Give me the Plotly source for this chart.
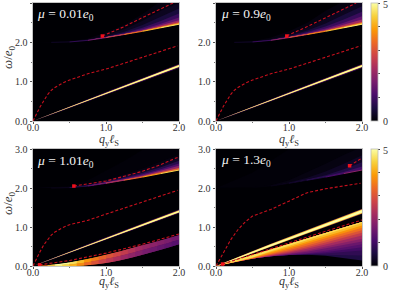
import plotly.graph_objects as go
from plotly.colors import sample_colorscale, sequential

W, H = 399, 290
ZMAX = 5
INFERNO = sequential.Inferno
def col(z):
    return sample_colorscale(INFERNO, [min(z / ZMAX, 1)])[0]

TITLES = ["0.01", "0.9", "1.01", "1.3"]
TICKS = [0.0, 1.0, 2.0, 3.0]
Q = [0.0, 0.25, 0.5, 0.75, 1.0, 1.25, 1.5, 1.75, 2.0]

# upper continuum edge
EDGE = [2.0, 2.0, 2.01, 2.05, 2.12, 2.2, 2.28, 2.37, 2.46]
EDGE_Z_1 = [0, 0.1, 0.3, 0.8, 1.6, 2.5, 3.4, 4.2, 4.6]
EDGE_Z_2 = [0, 0.1, 0.3, 0.9, 1.8, 2.8, 3.6, 4.3, 4.7]
EDGE_Z_3 = [0, 0.05, 0.2, 0.6, 1.3, 2.2, 3.2, 4.0, 4.5]
EDGE_Z_4 = [0, 0, 0.02, 0.05, 0.15, 0.3, 0.6, 1.1, 1.9]

# glow above the edge: intensity level, upper limit in omega
GLOW_1 = [(0.1, [2.0, 2.0, 2.02, 2.1, 2.25, 2.45, 2.72, 3.05, 3.05]),
          (0.25, [2.0, 2.0, 2.015, 2.07, 2.18, 2.33, 2.55, 2.8, 3.0]),
          (0.5, [2.0, 2.0, 2.01, 2.06, 2.15, 2.27, 2.44, 2.65, 2.86]),
          (0.9, [2.0, 2.0, 2.01, 2.055, 2.135, 2.24, 2.37, 2.54, 2.73]),
          (1.4, [2.0, 2.0, 2.01, 2.05, 2.13, 2.225, 2.33, 2.47, 2.63]),
          (2.2, [2.0, 2.0, 2.01, 2.05, 2.125, 2.215, 2.31, 2.43, 2.56]),
          (3.2, [2.0, 2.0, 2.01, 2.05, 2.123, 2.208, 2.295, 2.4, 2.51]),
          (4.2, [2.0, 2.0, 2.01, 2.05, 2.12, 2.203, 2.287, 2.385, 2.485])]
GLOW_2 = [(0.1, [2.0, 2.0, 2.03, 2.12, 2.28, 2.5, 2.8, 3.05, 3.05]),
          (0.25, [2.0, 2.0, 2.02, 2.08, 2.2, 2.37, 2.6, 2.87, 3.05]),
          (0.5, [2.0, 2.0, 2.01, 2.065, 2.16, 2.3, 2.48, 2.7, 2.92]),
          (0.9, [2.0, 2.0, 2.01, 2.06, 2.145, 2.26, 2.4, 2.58, 2.78]),
          (1.4, [2.0, 2.0, 2.01, 2.055, 2.135, 2.24, 2.35, 2.5, 2.66]),
          (2.2, [2.0, 2.0, 2.01, 2.05, 2.13, 2.22, 2.32, 2.45, 2.58]),
          (3.2, [2.0, 2.0, 2.01, 2.05, 2.125, 2.21, 2.3, 2.41, 2.52]),
          (4.2, [2.0, 2.0, 2.01, 2.05, 2.122, 2.205, 2.29, 2.39, 2.49])]
GLOW_3 = [(0.05, [2.0, 2.02, 2.06, 2.2, 2.45, 2.7, 2.98, 3.05, 3.05]),
          (0.12, [2.0, 2.0, 2.03, 2.11, 2.22, 2.35, 2.5, 2.68, 2.86]),
          (0.3, [2.0, 2.0, 2.02, 2.09, 2.19, 2.31, 2.44, 2.6, 2.78]),
          (0.7, [2.0, 2.0, 2.01, 2.07, 2.16, 2.27, 2.39, 2.53, 2.7]),
          (1.2, [2.0, 2.0, 2.01, 2.06, 2.145, 2.245, 2.35, 2.48, 2.63]),
          (2.0, [2.0, 2.0, 2.01, 2.055, 2.135, 2.225, 2.32, 2.44, 2.57]),
          (3.2, [2.0, 2.0, 2.01, 2.05, 2.125, 2.21, 2.3, 2.4, 2.51])]
GLOW_4 = [(0.05, [2.0, 2.2, 2.4, 2.7, 3.0, 3.05, 3.05, 3.05, 3.05]),
          (0.12, [2.0, 2.0, 2.02, 2.07, 2.2, 2.4, 2.62, 2.85, 3.05]),
          (0.3, [2.0, 2.0, 2.01, 2.05, 2.14, 2.26, 2.42, 2.62, 2.84]),
          (0.6, [2.0, 2.0, 2.01, 2.05, 2.125, 2.22, 2.33, 2.48, 2.66]),
          (1.0, [2.0, 2.0, 2.01, 2.05, 2.12, 2.21, 2.3, 2.41, 2.55])]

# sharp linear mode
LINEAR = [0.0, 0.175, 0.35, 0.525, 0.7, 0.875, 1.05, 1.225, 1.4]
HALO_THIN = [0.0, 0.016, 0.024, 0.03, 0.036, 0.04, 0.044, 0.047, 0.05]
CORE_THIN = [0.0, 0.004, 0.007, 0.009, 0.011, 0.012, 0.013, 0.014, 0.015]
HALO_WIDE = [0.0, 0.024, 0.036, 0.045, 0.05, 0.055, 0.058, 0.062, 0.066]
CORE_WIDE = [0.0, 0.01, 0.014, 0.018, 0.02, 0.022, 0.024, 0.025, 0.026]

# wedge of panel 3, column by column
WEDGE3_Q = [0.1, 0.2, 0.3, 0.4, 0.5, 0.6, 0.7, 0.8, 0.9, 1.0, 1.1, 1.2, 1.3, 1.4, 1.5, 1.6, 1.7, 1.8, 1.9, 2.0]
WEDGE3_HI = [0.01, 0.02, 0.04, 0.06, 0.09, 0.12, 0.16, 0.2, 0.24, 0.29, 0.33, 0.38, 0.43, 0.48, 0.53, 0.58, 0.63, 0.68, 0.74, 0.79]
WEDGE3_MID = [0, 0.01, 0.02, 0.03, 0.045, 0.06, 0.085, 0.115, 0.145, 0.185, 0.22, 0.265, 0.31, 0.36, 0.41, 0.46, 0.51, 0.56, 0.62, 0.675]
WEDGE3_LO = [0, 0, 0, 0, 0, 0, 0.01, 0.03, 0.05, 0.08, 0.11, 0.15, 0.19, 0.24, 0.29, 0.34, 0.39, 0.44, 0.5, 0.56]
WEDGE3_Z = [2, 3.6, 4.8, 5, 4.9, 4.6, 4.2, 3.8, 3.5, 3.2, 3.0, 2.8, 2.6, 2.4, 2.2, 2.05, 1.9, 1.8, 1.7, 1.6]
WEDGE3_Z_LOW = [1.8, 3.3, 4.5, 4.8, 4.5, 4.1, 3.7, 3.3, 3.0, 2.7, 2.5, 2.3, 2.1, 1.95, 1.8, 1.65, 1.55, 1.45, 1.35, 1.25]

# wedge of panel 4: common top, one lower limit per intensity level
WEDGE4_HI = [0.0, 0.14, 0.28, 0.42, 0.56, 0.7, 0.84, 0.98, 1.13]
WEDGE4_LEVELS = [(0.6, [0, 0.1, 0.19, 0.25, 0.285, 0.29, 0.26, 0.2, 0.14]),
                 (0.8, [0, 0.1, 0.19, 0.25, 0.285, 0.295, 0.29, 0.28, 0.27]),
                 (1.0, [0, 0.1, 0.19, 0.25, 0.285, 0.3, 0.32, 0.36, 0.4]),
                 (1.25, [0, 0.1, 0.19, 0.25, 0.287, 0.315, 0.355, 0.42, 0.48]),
                 (1.5, [0, 0.1, 0.19, 0.25, 0.29, 0.33, 0.39, 0.48, 0.56]),
                 (1.85, [0, 0.1, 0.19, 0.255, 0.305, 0.365, 0.445, 0.54, 0.63]),
                 (2.2, [0, 0.1, 0.19, 0.26, 0.32, 0.4, 0.5, 0.6, 0.7]),
                 (2.6, [0, 0.1, 0.19, 0.27, 0.345, 0.44, 0.55, 0.66, 0.78]),
                 (3.0, [0, 0.1, 0.19, 0.28, 0.37, 0.48, 0.6, 0.72, 0.85]),
                 (3.4, [0, 0.1, 0.195, 0.3, 0.405, 0.525, 0.65, 0.78, 0.915]),
                 (3.8, [0, 0.1, 0.2, 0.32, 0.44, 0.57, 0.7, 0.84, 0.98]),
                 (4.2, [0, 0.1, 0.21, 0.35, 0.48, 0.615, 0.75, 0.895, 1.04]),
                 (4.6, [0, 0.1, 0.22, 0.38, 0.52, 0.66, 0.8, 0.95, 1.1])]

# dashed dispersions
MID_Q = [0.0, 0.05, 0.1, 0.15, 0.2, 0.25, 0.3, 0.4, 0.5, 0.75, 1.0, 1.25, 1.5, 1.75, 1.98]
MID_1 = [0.0, 0.2, 0.37, 0.52, 0.67, 0.78, 0.85, 0.96, 1.04, 1.2, 1.32, 1.47, 1.62, 1.77, 1.91]
MID_2 = [0.0, 0.2, 0.37, 0.52, 0.67, 0.78, 0.85, 0.96, 1.04, 1.2, 1.32, 1.47, 1.62, 1.77, 1.91]
MID_3 = [0.0, 0.2, 0.38, 0.55, 0.68, 0.79, 0.87, 0.98, 1.06, 1.17, 1.33, 1.49, 1.64, 1.79, 1.94]
MID_4 = [0.0, 0.18, 0.34, 0.5, 0.67, 0.81, 0.93, 1.13, 1.28, 1.45, 1.67, 1.88, 1.98, 2.05, 2.12]

TOP_Q_1 = [0.95, 1.0, 1.25, 1.5, 1.75, 1.92]
TOP_W_1 = [2.16, 2.2, 2.4, 2.63, 2.85, 3.0]
TOP_Q_2 = [0.97, 1.0, 1.25, 1.5, 1.75, 1.92]
TOP_W_2 = [2.16, 2.19, 2.4, 2.63, 2.85, 3.0]
TOP_Q_3 = [0.56, 0.75, 1.0, 1.25, 1.5, 1.75, 2.0]
TOP_W_3 = [2.05, 2.1, 2.18, 2.3, 2.43, 2.6, 2.8]
TOP_Q_4 = [1.83, 1.9, 2.0]
TOP_W_4 = [2.57, 2.66, 2.77]

LOW_Q_3 = [0.09, 0.5, 1.0, 1.5, 2.0]
LOW_W_3 = [0.03, 0.14, 0.33, 0.56, 0.82]
LOW_Q_4 = [0.09, 0.5, 1.0, 1.5, 2.0]
LOW_W_4 = [0.05, 0.3, 0.6, 0.89, 1.18]

# axes pixel boxes (left, right, top, bottom)
BOXES = [(33, 179, 3, 121), (216, 362, 3, 121), (33, 179, 149, 266), (216, 362, 149, 266)]

fig = go.Figure()


def poly(i, xs, lo, hi, z):
    fig.add_trace(go.Scatter(
        x=list(xs) + list(xs)[::-1], y=list(hi) + list(lo)[::-1],
        fill="toself", fillcolor=col(z), mode="lines",
        line=dict(width=0, color=col(z)), xaxis=f"x{i+1}", yaxis=f"y{i+1}",
        hoverinfo="skip", showlegend=False))


def dashed(i, q, w):
    fig.add_trace(go.Scatter(x=q, y=w, mode="lines", line=dict(color="#c8101e", width=1.1, dash="3px,2px"),
                             xaxis=f"x{i+1}", yaxis=f"y{i+1}", showlegend=False, hoverinfo="skip"))


def mark(i, q, w):
    fig.add_trace(go.Scatter(x=[q], y=[w], mode="markers", marker=dict(symbol="square", size=3.5, color="#f0101c"),
                             xaxis=f"x{i+1}", yaxis=f"y{i+1}", showlegend=False, hoverinfo="skip"))


glows = [GLOW_1, GLOW_2, GLOW_3, GLOW_4]
edge_z = [EDGE_Z_1, EDGE_Z_2, EDGE_Z_3, EDGE_Z_4]
mids = [MID_1, MID_2, MID_3, MID_4]
tops = [(TOP_Q_1, TOP_W_1), (TOP_Q_2, TOP_W_2), (TOP_Q_3, TOP_W_3), (TOP_Q_4, TOP_W_4)]

for i in range(4):
    ax = f"x{i+1}"
    ay = f"y{i+1}"
    fig.add_trace(go.Heatmap(
        x=[0, 2], y=[0, 3], z=[[0, 0], [0, 0]], zmin=0, zmax=ZMAX, colorscale=INFERNO,
        xaxis=ax, yaxis=ay, hoverinfo="skip",
        showscale=i in (1, 3),
        colorbar=dict(
            x=371 / W, xanchor="left", xref="paper", thickness=7, thicknessmode="pixels",
            len=(BOXES[i][3] - BOXES[i][2]) / H, lenmode="fraction",
            y=1 - BOXES[i][3] / H, yanchor="bottom", yref="paper",
            tickvals=[1, 2, 3, 4, 5], ticktext=["", "", "", "", ""],
            ticks="outside", ticklen=2, tickwidth=0.6, tickcolor="#444",
            tickfont=dict(family="Liberation Serif", size=10, color="#333"),
            outlinecolor="#bbbbbb", outlinewidth=0.8, xpad=0, ypad=0),
    ))
    for z, hi in glows[i]:
        poly(i, Q, EDGE, hi, z)
    # edge line, coloured piece by piece
    for k in range(1, len(Q) - 1):
        fig.add_trace(go.Scatter(x=Q[k:k + 2], y=EDGE[k:k + 2], mode="lines",
                                 line=dict(color=col(edge_z[i][k + 1]), width=1.0), xaxis=ax, yaxis=ay,
                                 showlegend=False, hoverinfo="skip"))
    halo = HALO_WIDE if i == 3 else HALO_THIN
    core = CORE_WIDE if i == 3 else CORE_THIN
    poly(i, Q, [a - b for a, b in zip(LINEAR, halo)], [a + b for a, b in zip(LINEAR, halo)], 0.9)
    poly(i, Q, [a - b * 2 for a, b in zip(LINEAR, core)], [a + b * 2 for a, b in zip(LINEAR, core)], 4.2)
    poly(i, Q, [a - b * 1.3 for a, b in zip(LINEAR, core)], [a + b * 1.3 for a, b in zip(LINEAR, core)], 5.0)
    dashed(i, MID_Q, mids[i])
    dashed(i, tops[i][0], tops[i][1])
    mark(i, tops[i][0][0], tops[i][1][0])

# wedges and their dashed tops: each column overlaps the next to hide seams
for k in range(len(WEDGE3_Q) - 1):
    poly(2, WEDGE3_Q[k:k + 3], WEDGE3_MID[k:k + 3], WEDGE3_HI[k:k + 3], WEDGE3_Z[k + 1])
    poly(2, WEDGE3_Q[k:k + 3], WEDGE3_LO[k:k + 3], WEDGE3_MID[k:k + 3], WEDGE3_Z_LOW[k + 1])
for z, lo in WEDGE4_LEVELS:
    poly(3, Q, lo, WEDGE4_HI, z)
dashed(2, LOW_Q_3, LOW_W_3)
mark(2, LOW_Q_3[0], LOW_W_3[0])
dashed(3, LOW_Q_4, LOW_W_4)
mark(3, LOW_Q_4[0], LOW_W_4[0])

FONT = "Liberation Serif"
layout = dict(width=W, height=H, margin=dict(l=0, r=0, t=0, b=0, autoexpand=False), paper_bgcolor="white",
              plot_bgcolor=col(0), showlegend=False)
for i, (l, r, t, b) in enumerate(BOXES):
    common = dict(showgrid=False, zeroline=False, showline=True, mirror=True, linecolor="#c4c4c4", linewidth=0.8,
                  ticks="outside", ticklen=2.5, tickwidth=0.7, tickcolor="#555",
                  tickfont=dict(family=FONT, size=10, color="#333"), tickformat=".1f",
                  minor=dict(ticks="outside", ticklen=1.5, tickwidth=0.6, tickcolor="#777"))
    layout[f"xaxis{i+1}"] = dict(common, domain=[l / W, r / W], range=[0, 2], anchor=f"y{i+1}", ticklabelstandoff=-5,
                                 tickvals=TICKS[:3], minor=dict(common["minor"], tickvals=[0.5, 1.5]))
    layout[f"yaxis{i+1}"] = dict(common, domain=[1 - b / H, 1 - t / H], range=[0, 3], anchor=f"x{i+1}",
                                 tickvals=TICKS, minor=dict(common["minor"], tickvals=[0.5, 1.5, 2.5]))
fig.update_layout(**layout)


def note(x, y, text, size, color="#333", angle=0):
    fig.add_annotation(xref="paper", yref="paper", x=x / W, y=1 - y / H, text=text, showarrow=False,
                       font=dict(family=FONT, size=size, color=color), textangle=angle,
                       xanchor="center", yanchor="middle")


MU_POS = [(65, 15), (246, 15), (65, 161), (246, 160)]
for (x, y), t in zip(MU_POS, TITLES):
    note(x, y, f"<i>μ</i> = {t}<i>e</i><sub>0</sub>", 13.5, "#f2f2f2")
for x, y in [(109, 140), (289, 140), (109, 282), (289, 282)]:
    note(x, y, "<i>q</i><sub>y</sub><i>ℓ</i><sub>S</sub>", 12)
for y in (57, 203):
    note(8, y, "<i>ω</i>/<i>e</i><sub>0</sub>", 13, angle=-90)
for y in (4, 121, 150, 266):
    note(385, y, "5" if y in (4, 150) else "0", 10)

fig.write_html("out.html", config=dict(displayModeBar=False),
               post_script="document.body.style.margin='0';")
